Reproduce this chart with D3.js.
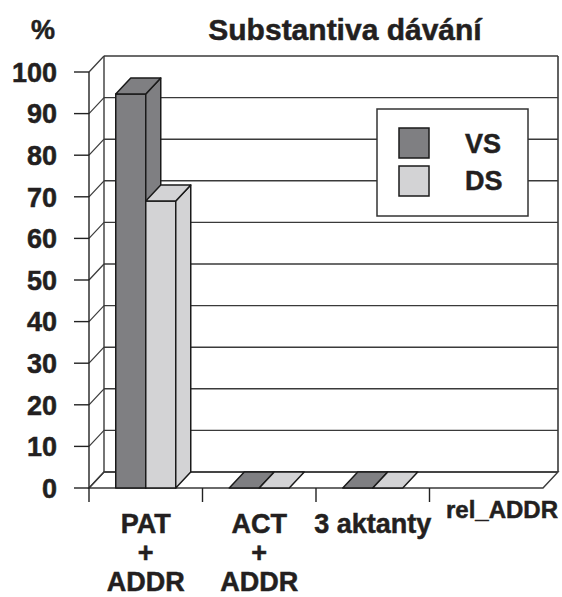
<!DOCTYPE html>
<html>
<head>
<meta charset="utf-8">
<script src="https://cdn.jsdelivr.net/npm/d3@7"></script>
<style>
  body { margin: 0; background: #fff; }
  svg text { font-family: "Liberation Sans", Arial, sans-serif; font-weight: bold; fill: #231f20;
             stroke: #231f20; stroke-width: 0.5px; }
</style>
</head>
<body>
<div id="vis"></div>
<script>
// data
const categories = ['PAT + ADDR', 'ACT + ADDR', '3 aktanty', 'rel_ADDR'];
const catLabels = [['PAT', '+', 'ADDR'], ['ACT', '+', 'ADDR'], ['3 aktanty'], ['rel_ADDR']];
const series = ['VS', 'DS'];
const vsValues = [94.7, 0, 0, null];
const dsValues = [69, 0, 0, null];
const yTicks = [0, 10, 20, 30, 40, 50, 60, 70, 80, 90, 100];
const seriesColors = ['#7f7f82', '#d3d3d5'];

const width = 562, height = 597;
const dx = 15, dy = -16;   // 3d depth offset

const svg = d3.select('#vis').append('svg')
  .attr('width', width)
  .attr('height', height);

const y = d3.scaleLinear().domain([0, 100]).range([488, 72]);
const x = d3.scaleBand().domain(categories).range([89, 543]);
const xs = d3.scaleBand().domain(series)
  .range([x.bandwidth() / 2 - 30, x.bandwidth() / 2 + 30]);

const gridColor = '#3a3a3a';

// back wall gridlines
svg.append('g')
  .selectAll('line')
  .data(yTicks)
  .join('line')
    .attr('x1', 89 + dx).attr('x2', 543 + dx)
    .attr('y1', d => y(d) + dy).attr('y2', d => y(d) + dy)
    .attr('stroke', gridColor).attr('stroke-width', 1.4);

// left wall diagonals
svg.append('g')
  .selectAll('line')
  .data(yTicks)
  .join('line')
    .attr('x1', 89).attr('x2', 89 + dx)
    .attr('y1', d => y(d)).attr('y2', d => y(d) + dy)
    .attr('stroke', gridColor).attr('stroke-width', 1.2);

// walls outline
svg.append('line')
  .attr('x1', 89 + dx).attr('x2', 89 + dx)
  .attr('y1', y(100) + dy).attr('y2', y(0) + dy)
  .attr('stroke', gridColor).attr('stroke-width', 1.4);
svg.append('line')
  .attr('x1', 543 + dx).attr('x2', 543 + dx)
  .attr('y1', y(100) + dy).attr('y2', y(0) + dy)
  .attr('stroke', gridColor).attr('stroke-width', 1.6);

// floor
svg.append('path')
  .attr('d', `M${89},${y(0)}L${543},${y(0)}L${543 + dx},${y(0) + dy}L${89 + dx},${y(0) + dy}Z`)
  .attr('fill', 'none')
  .attr('stroke', gridColor).attr('stroke-width', 1.4);

// y axis
svg.append('line')
  .attr('x1', 89).attr('x2', 89)
  .attr('y1', y(100)).attr('y2', 502)
  .attr('stroke', '#222').attr('stroke-width', 1.4);

const yAxis = svg.append('g');
yAxis.selectAll('line')
  .data(yTicks)
  .join('line')
    .attr('x1', 74).attr('x2', 89)
    .attr('y1', d => y(d)).attr('y2', d => y(d))
    .attr('stroke', '#222').attr('stroke-width', 1.4);
yAxis.selectAll('text')
  .data(yTicks)
  .join('text')
    .attr('x', 57)
    .attr('y', d => y(d))
    .attr('dy', '0.36em')
    .attr('text-anchor', 'end')
    .style('font-size', '27px')
    .text(d => d);

// category ticks
svg.append('g')
  .selectAll('line')
  .data(categories.slice(1))
  .join('line')
    .attr('x1', d => x(d)).attr('x2', d => x(d))
    .attr('y1', y(0)).attr('y2', 502)
    .attr('stroke', '#222').attr('stroke-width', 1.4);

// bars
const bars = [];
categories.forEach((c, i) => {
  [vsValues[i], dsValues[i]].forEach((v, j) => {
    if (v !== null) bars.push({ cat: c, s: series[j], v: v, color: seriesColors[j] });
  });
});

const barG = svg.append('g')
  .attr('stroke', '#1a1a1a').attr('stroke-width', 1.5).attr('stroke-linejoin', 'round');

bars.forEach(d => {
  const x0 = x(d.cat) + xs(d.s);
  const w = xs.bandwidth();
  const top = y(d.v), base = y(0);
  const g = barG.append('g').attr('fill', d.color);
  if (d.v > 0) {
    g.append('rect')
      .attr('x', x0).attr('y', top)
      .attr('width', w).attr('height', base - top);
    g.append('path')
      .attr('d', `M${x0 + w},${top}L${x0 + w + dx},${top + dy}L${x0 + w + dx},${base + dy}L${x0 + w},${base}Z`);
  }
  g.append('path')
    .attr('d', `M${x0},${top}L${x0 + dx},${top + dy}L${x0 + w + dx},${top + dy}L${x0 + w},${top}Z`);
});

// category labels
const labG = svg.append('g');
categories.forEach((c, i) => {
  const lines = catLabels[i];
  const small = c === 'rel_ADDR';
  const t = labG.append('text')
    .attr('text-anchor', 'middle')
    .style('font-size', small ? '24px' : '27px');
  lines.forEach((l, k) => {
    t.append('tspan')
      .attr('x', small ? 502 : x(c) + x.bandwidth() / 2)
      .attr('y', small ? 518 : 533 + k * 29)
      .text(l);
  });
});

// title and unit
svg.append('text')
  .attr('x', 345).attr('y', 40)
  .attr('text-anchor', 'middle')
  .style('font-size', '30px')
  .text('Substantiva dávání');
svg.append('text')
  .attr('x', 31).attr('y', 39)
  .style('font-size', '27px')
  .text('%');

// legend
const leg = svg.append('g');
leg.append('rect')
  .attr('x', 377).attr('y', 109)
  .attr('width', 151).attr('height', 107)
  .attr('fill', '#fff')
  .attr('stroke', '#333').attr('stroke-width', 1.5);
series.forEach((s, i) => {
  leg.append('rect')
    .attr('x', 399).attr('y', 128 + i * 38)
    .attr('width', 30).attr('height', 30)
    .attr('fill', seriesColors[i])
    .attr('stroke', '#1a1a1a').attr('stroke-width', 1.5);
  leg.append('text')
    .attr('x', 465).attr('y', 153 + i * 37)
    .style('font-size', '27px')
    .text(s);
});
</script>
</body>
</html>
